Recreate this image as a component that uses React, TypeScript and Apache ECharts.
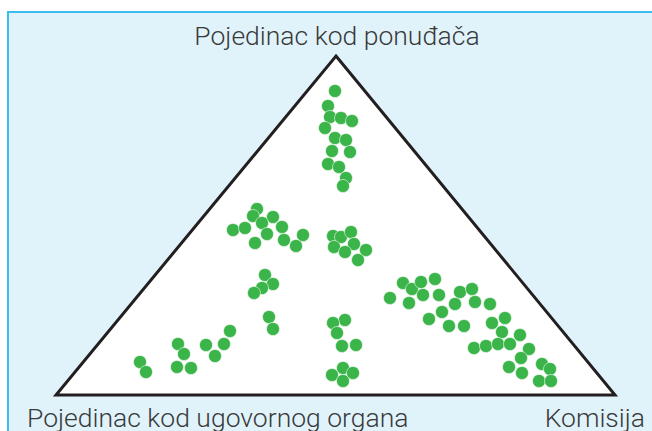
import React, { useEffect, useRef } from "react";
import * as echarts from "echarts";

const cornerLabels = ["Pojedinac kod ponuđača", "Pojedinac kod ugovornog organa", "Komisija"];

// triangle vertices (apex, bottom-right, bottom-left) in the chart's value space
const triangleX = [336, 615, 56];
const triangleY = [56, 395, 395];

// dot positions
const dotsX = [
  335, 328, 330, 341, 352, 325, 335, 346, 332, 350, 328, 339, 346, 343,
  257, 253, 273, 262, 233, 245, 282, 267, 303, 284, 255, 296,
  333, 341, 351, 334, 354, 345, 366, 358,
  265, 273, 262, 254, 269, 273,
  230, 224, 206, 215, 178, 184, 177, 191, 140, 146,
  345, 333, 337, 342, 356, 343, 332, 353, 343,
  390, 403, 412, 421, 435, 409, 423, 439, 460, 472, 455, 475, 490, 442, 429, 449, 464,
  492, 505, 502, 520, 474, 486, 498, 510, 529, 521, 509, 522, 542, 550, 539, 551,
];
const dotsY = [
  91, 106, 117, 118, 121, 128, 138, 140, 151, 152, 164, 167, 178, 186,
  209, 216, 217, 223, 230, 228, 227, 234, 235, 240, 243, 246,
  236, 237, 232, 247, 244, 252, 250, 260,
  275, 284, 288, 293, 317, 329,
  331, 344, 345, 356, 344, 354, 367, 368, 362, 372,
  320, 323, 333, 346, 345, 368, 375, 373, 381,
  298, 283, 289, 282, 279, 303, 295, 295, 292, 289, 304, 302, 304, 312, 319, 326, 326,
  323, 318, 332, 335, 348, 346, 344, 344, 349, 358, 367, 373, 364, 369, 381, 381,
];

const W = 652;
const H = 431;

export default function App() {
  const ref = useRef<HTMLDivElement>(null);
  useEffect(() => {
    if (!ref.current) return;
    const chart = echarts.init(ref.current, undefined, { renderer: "svg" });
    const dots = dotsX.map((x, i) => [x, dotsY[i]]);
    const tri = triangleX.map((x, i) => [x, triangleY[i]]);
    const textStyle = {
      fill: "#3a3a3a",
      fontFamily: "Roboto",
      fontWeight: 300,
      fontSize: 26.5,
    };
    chart.setOption({
      animation: false,
      backgroundColor: "#ffffff",
      grid: { left: 0, right: 0, top: 0, bottom: 0 },
      xAxis: { type: "value", min: 0, max: W, show: false },
      yAxis: { type: "value", min: 0, max: H, inverse: true, show: false },
      graphic: [
        {
          type: "rect",
          z: -10,
          shape: { x: 8, y: 12, width: 700, height: 500 },
          style: { fill: "#e0f3fb", stroke: "#3dbdee", lineWidth: 2 },
        },
        {
          type: "text",
          z: 10,
          x: 337,
          y: 35,
          style: { ...textStyle, text: cornerLabels[0], textAlign: "center", textVerticalAlign: "middle" },
        },
        {
          type: "text",
          z: 10,
          x: 27,
          y: 417,
          style: { ...textStyle, text: cornerLabels[1], textAlign: "left", textVerticalAlign: "middle" },
        },
        {
          type: "text",
          z: 10,
          x: 645,
          y: 417,
          style: { ...textStyle, text: cornerLabels[2], textAlign: "right", textVerticalAlign: "middle" },
        },
      ],
      series: [
        {
          type: "custom",
          z: 1,
          data: [0],
          renderItem: (_params: any, api: any) => {
            const pts = tri.map((p) => api.coord(p));
            return {
              type: "polygon",
              shape: { points: pts },
              style: { fill: "#ffffff", stroke: "#231f20", lineWidth: 3, lineJoin: "miter" },
            };
          },
          silent: true,
        },
        {
          type: "scatter",
          z: 5,
          data: dots,
          symbol: "circle",
          symbolSize: 13,
          itemStyle: { color: "#3bb54a", borderColor: "rgba(255,255,255,0.7)", borderWidth: 0.8, opacity: 1 },
        },
      ],
    });
    return () => chart.dispose();
  }, []);
  return (
    <div
      ref={ref}
      style={{ position: "absolute", left: 0, top: 0, width: W, height: H }}
    />
  );
}
